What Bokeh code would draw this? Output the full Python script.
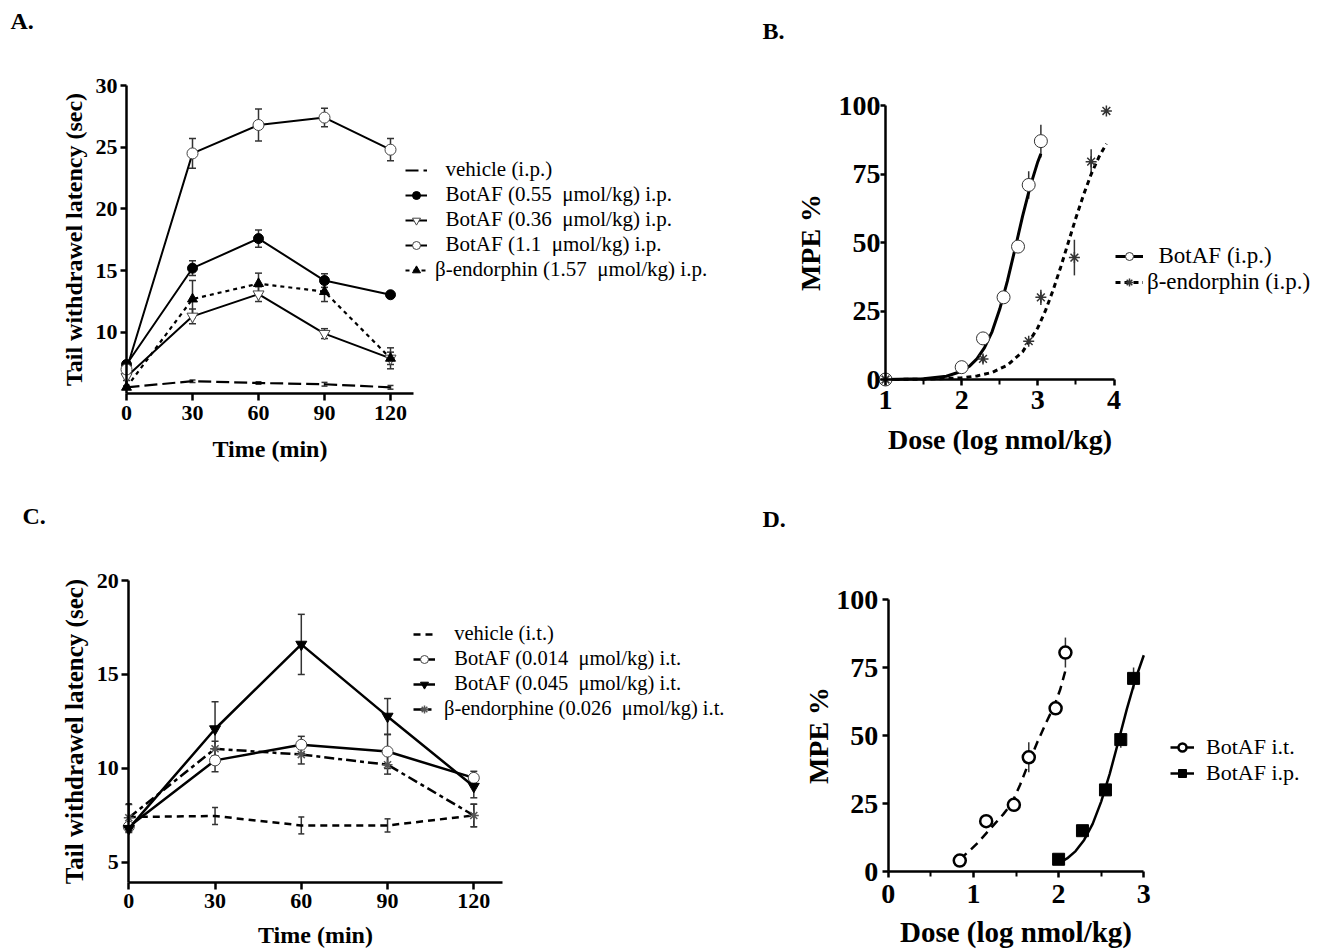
from bokeh.plotting import figure
from bokeh.models import (ColumnDataSource, Whisker, TeeHead, Legend, LegendItem,
                          Label, FixedTicker, Range1d)
from bokeh.layouts import column, row
from bokeh.embed import file_html
from bokeh.resources import INLINE

SERIF = "Liberation Serif"
NB = "\u00a0"
MU = NB + " \u03bcmol/kg"

# ---------------- data: panel A (i.p. time course) ----------------
time_min = [0, 30, 60, 90, 120]
a_vehicle = [5.55, 6.05, 5.9, 5.8, 5.55]
a_vehicle_err = [0.1, 0.1, 0.1, 0.15, 0.15]
a_botaf_055 = [7.4, 15.2, 17.6, 14.2, 13.05]
a_botaf_055_err = [0.3, 0.6, 0.7, 0.55, 0.15]
a_botaf_036 = [6.4, 11.3, 13.1, 9.9, 7.9]
a_botaf_036_err = [0.3, 0.6, 0.6, 0.4, 0.5]
a_botaf_11 = [7.0, 24.5, 26.8, 27.4, 24.8]
a_botaf_11_err = [0.3, 1.2, 1.3, 0.75, 0.9]
a_bendo = [5.55, 12.7, 13.95, 13.3, 7.9]
a_bendo_err = [0.1, 1.5, 0.85, 0.8, 0.85]

# ---------------- data: panel B (i.p. dose response) ----------------
b_botaf_dose = [1.0, 2.0, 2.28, 2.55, 2.74, 2.88, 3.04]
b_botaf_mpe = [0, 4.5, 15, 30, 48.5, 71, 87]
b_botaf_err = [0, 1, 2, 1.5, 2, 5, 6]
b_bendo_dose = [1.0, 2.28, 2.88, 3.04, 3.48, 3.7, 3.9]
b_bendo_mpe = [0, 7.5, 14, 30, 44.5, 79.5, 98]
b_bendo_err = [0, 1.5, 1, 2.8, 6.5, 4.5, 0]
b_fit_botaf_x = [1.0, 1.5, 1.8, 2.0, 2.1, 2.2, 2.3, 2.4, 2.5, 2.6, 2.7, 2.8, 2.9, 3.0, 3.04]
b_fit_botaf_y = [0.0, 0.3, 1.2, 3.0, 4.8, 7.5, 11.6, 17.5, 25.7, 35.9, 47.6, 59.6, 70.5, 79.5, 82.4]
b_fit_bendo_x = [1.0, 1.5, 2.0, 2.2, 2.4, 2.6, 2.8, 3.0, 3.1, 3.2, 3.3, 3.4, 3.5, 3.6, 3.7, 3.8, 3.9]
b_fit_bendo_y = [0.0, 0.1, 0.6, 1.3, 2.6, 5.2, 10.1, 18.9, 25.1, 32.6, 41.0, 50.0, 59.0, 67.4, 74.9, 81.1, 86.0]

# ---------------- data: panel C (i.t. time course) ----------------
c_vehicle = [7.42, 7.47, 6.97, 6.97, 7.5]
c_vehicle_err = [0.7, 0.45, 0.45, 0.35, 0.6]
c_botaf_0014 = [6.9, 10.43, 11.26, 10.9, 9.5]
c_botaf_0014_err = [0.2, 0.6, 0.45, 0.9, 0.35]
c_botaf_0045 = [6.8, 12.1, 16.6, 12.77, 9.04]
c_botaf_0045_err = [0.2, 1.45, 1.6, 0.95, 0.6]
c_bendo = [7.38, 11.05, 10.74, 10.2, 7.5]
c_bendo_err = [0.7, 0.4, 0.5, 0.5, 0.6]

# ---------------- data: panel D (i.t. vs i.p. dose response) ----------------
d_it_dose = [0.84, 1.15, 1.475, 1.65, 1.965, 2.08]
d_it_mpe = [4, 18.5, 24.5, 42, 60, 80.5]
d_it_err = [1, 1.5, 2, 5.5, 1.5, 5.5]
d_ip_dose = [2.0, 2.28, 2.55, 2.73, 2.88]
d_ip_mpe = [4.5, 15, 30, 48.5, 71]
d_ip_err = [0.5, 1, 2, 3, 4]
d_fit_it_x = [0.84, 0.95, 1.05, 1.15, 1.25, 1.35, 1.45, 1.55, 1.65, 1.75, 1.85, 1.95, 2.02, 2.09]
d_fit_it_y = [4.5, 7.5, 10.5, 14, 17.5, 21, 25, 32, 40, 47.5, 54.5, 61, 67, 75]
d_fit_ip_x = [2.0, 2.1, 2.2, 2.3, 2.4, 2.5, 2.6, 2.7, 2.8, 2.9, 3.0]
d_fit_ip_y = [3.0, 4.8, 7.5, 11.6, 17.5, 25.7, 35.9, 47.6, 59.6, 70.5, 79.5]

# ---------------- layout geometry (page pixels) ----------------
COL_W = (745, 585)
ROW_H = (490, 460)


def make_fig(box, xmap, ymap, xbounds, ybounds):
    """box = (left, top, w, h) on the page; xmap = (x0, px0, x1, px1) and
    ymap = (y0, py0, y1, py1) pin data values to page pixels.  The frame
    covers the whole figure and the axes sit at fixed data locations."""
    left, top, w, h = box
    x0, px0, x1, px1 = xmap
    y0, py0, y1, py1 = ymap
    ux = (x1 - x0) / (px1 - px0)
    uy = (y1 - y0) / (py0 - py1)
    xr = (x0 - (px0 - left) * ux, x0 + (left + w - px0) * ux)
    yr = (y0 - (top + h - py0) * uy, y0 + (py0 - top) * uy)
    p = figure(width=w, height=h, x_range=Range1d(*xr), y_range=Range1d(*yr),
               output_backend="svg", toolbar_location=None,
               min_border_left=0, min_border_right=0,
               min_border_top=0, min_border_bottom=0)
    p.outline_line_color = None
    p.grid.visible = False
    p.background_fill_color = "white"
    p.border_fill_color = "white"
    p.xaxis[0].fixed_location = ybounds[0]
    p.yaxis[0].fixed_location = xbounds[0]
    p.xaxis[0].bounds = xbounds
    p.yaxis[0].bounds = ybounds
    return p


def style_axes(p, tick_px, label_px, xlabel, ylabel, xticks, yticks,
               xminor=(), x_std=(2, 6), y_std=(3, 6), x_out=7, y_out=7, ylabel_px=None):
    xa, ya = p.xaxis[0], p.yaxis[0]
    xa.ticker = FixedTicker(ticks=xticks, minor_ticks=list(xminor))
    ya.ticker = FixedTicker(ticks=yticks, minor_ticks=[])
    xa.axis_label = xlabel
    ya.axis_label = ylabel
    for ax, std, out, lpx in ((xa, x_std, x_out, label_px),
                              (ya, y_std, y_out, ylabel_px or label_px)):
        ax.axis_line_width = 2.5
        ax.axis_line_color = "black"
        ax.major_tick_line_width = 2.5
        ax.major_tick_out = out
        ax.major_tick_in = 0
        ax.minor_tick_line_width = 2
        ax.minor_tick_out = 5
        ax.minor_tick_in = 0
        ax.major_label_text_font = SERIF
        ax.major_label_text_font_style = "bold"
        ax.major_label_text_font_size = f"{tick_px}px"
        ax.major_label_text_color = "black"
        ax.axis_label_text_font = SERIF
        ax.axis_label_text_font_style = "bold"
        ax.axis_label_text_font_size = f"{lpx}px"
        ax.axis_label_text_color = "black"
        ax.major_label_standoff = std[0]
        ax.axis_label_standoff = std[1]


def series(p, x, y, err=None, marker=None, size=10, fill="black", mcolor="black",
           mlw=1.0, dash="solid", lw=2.0, caps=True, cap=7, ecolor="#333333", line=True):
    rs = []
    if err is not None:
        src = ColumnDataSource(dict(x=x, lo=[a - b for a, b in zip(y, err)],
                                    hi=[a + b for a, b in zip(y, err)]))
        head_u = TeeHead(size=cap, line_width=1.5, line_color=ecolor) if caps else None
        head_l = TeeHead(size=cap, line_width=1.5, line_color=ecolor) if caps else None
        w = Whisker(source=src, base="x", upper="hi", lower="lo", dimension="height",
                    line_color=ecolor, line_width=1.5, upper_head=head_u, lower_head=head_l)
        p.add_layout(w)
    if line:
        rs.append(p.line(x, y, line_color="black", line_width=lw, line_dash=dash))
    if marker is not None:
        rs.append(p.scatter(x, y, marker=marker, size=size, fill_color=fill,
                            line_color=mcolor, line_width=mlw))
    return rs


def add_legend(p, items, vx, vy, font_px, glyph_w, standoff, spacing, gh=20):
    lg = Legend(items=[LegendItem(label=t, renderers=r) for t, r in items],
                location=(vx, vy), padding=0, margin=0, spacing=spacing,
                glyph_width=glyph_w, glyph_height=gh, label_height=gh,
                label_standoff=standoff, border_line_color=None,
                background_fill_alpha=0)
    lg.label_text_font = SERIF
    lg.label_text_font_size = f"{font_px}px"
    lg.label_text_color = "black"
    p.add_layout(lg)


def panel_letter(p, text, x, y):
    p.add_layout(Label(x=x, y=y, x_units="screen", y_units="screen", text=text,
                       text_font=SERIF, text_font_style="bold", text_font_size="24px",
                       text_baseline="middle", text_align="left", text_color="black"))


# ---------------- Panel A ----------------
boxA = (0, 0, COL_W[0], ROW_H[0])
pA = make_fig(boxA, (0, 126, 120, 390), (5.05, 393, 30, 85), (0, 130.5), (5.05, 30))
style_axes(pA, 22, 24, "Time (min)", "Tail withdrawel latency (sec)",
           time_min, [10, 15, 20, 25, 30], x_std=(5, 13), y_std=(3, 6), x_out=7, y_out=6)
rA_veh = series(pA, time_min, a_vehicle, a_vehicle_err, None, dash="13 5", lw=2.2, cap=6)
rA_055 = series(pA, time_min, a_botaf_055, a_botaf_055_err, "circle", 10, "black")
rA_036 = series(pA, time_min, a_botaf_036, a_botaf_036_err, "inverted_triangle", 11,
                "white", mcolor="#444444")
rA_11 = series(pA, time_min, a_botaf_11, a_botaf_11_err, "circle", 11, "white",
               mcolor="#444444")
rA_be = series(pA, time_min, a_bendo, a_bendo_err, "triangle", 10, "black",
               dash="4 4", lw=2.2)
add_legend(pA, [
    (NB * 2 + "vehicle (i.p.)", rA_veh),
    (NB * 2 + "BotAF (0.55" + MU + ") i.p.", rA_055),
    (NB * 2 + "BotAF (0.36" + MU + ") i.p.", rA_036),
    (NB * 2 + "BotAF (1.1" + MU + ") i.p.", rA_11),
    ("\u03b2-endorphin (1.57" + MU + ") i.p.", rA_be),
], 405, ROW_H[0] - 282, 21, 22, 8, 0)
panel_letter(pA, "A.", 10, ROW_H[0] - 20)

# ---------------- Panel B ----------------
boxB = (COL_W[0], 0, COL_W[1], ROW_H[0])
pB = make_fig(boxB, (1, 885, 4, 1113.5), (0, 379, 100, 105), (1, 4), (0, 100))
style_axes(pB, 28, 28, "Dose (log nmol/kg)", "MPE %", [1, 2, 3, 4],
           [0, 25, 50, 75, 100], xminor=[1.5, 2.5, 3.5], x_std=(5, 12), y_std=(0, 10),
           x_out=6, y_out=5)
fB1 = pB.line(b_fit_botaf_x, b_fit_botaf_y, line_color="black", line_width=3)
fB2 = pB.line(b_fit_bendo_x, b_fit_bendo_y, line_color="black", line_width=3,
              line_dash="5 4")
sB1 = series(pB, b_botaf_dose, b_botaf_mpe, b_botaf_err, "circle", 13, "white",
             mcolor="#333333", caps=False, line=False)
sB2 = series(pB, b_bendo_dose, b_bendo_mpe, b_bendo_err, "asterisk", 11, "white",
             mcolor="#333333", mlw=1.5, caps=False, line=False)
add_legend(pB, [
    (NB * 2 + "BotAF (i.p.)", [fB1] + sB1),
    ("\u03b2-endorphin (i.p.)", [fB2] + sB2),
], 1115 - COL_W[0], ROW_H[0] - 294.5, 23, 28, 4, 0)
panel_letter(pB, "B.", 762 - COL_W[0], ROW_H[0] - 30)

# ---------------- Panel C ----------------
boxC = (0, ROW_H[0], COL_W[0], ROW_H[1])
pC = make_fig(boxC, (0, 128.3, 120, 473.3), (3.95, 881.7, 20, 580), (0, 130), (3.95, 20))
style_axes(pC, 22, 24, "Time (min)", "Tail withdrawel latency (sec)",
           time_min, [5, 10, 15, 20], x_std=(5, 10), y_std=(3, 6), ylabel_px=25)
rC_veh = series(pC, time_min, c_vehicle, c_vehicle_err, None, dash="7 5", lw=2.5, cap=6)
rC_14 = series(pC, time_min, c_botaf_0014, c_botaf_0014_err, "circle", 11, "white",
               mcolor="#444444", lw=2.5)
rC_45 = series(pC, time_min, c_botaf_0045, c_botaf_0045_err, "inverted_triangle", 11,
               "black", lw=2.5)
rC_be = series(pC, time_min, c_bendo, c_bendo_err, "asterisk", 10, "white",
               mcolor="#555555", mlw=1.5, dash="10 4 4 4", lw=2.5)
add_legend(pC, [
    (NB * 2 + "vehicle (i.t.)", rC_veh),
    (NB * 2 + "BotAF (0.014" + MU + ") i.t.", rC_14),
    (NB * 2 + "BotAF (0.045" + MU + ") i.t.", rC_45),
    ("\u03b2-endorphine (0.026" + MU + ") i.t.", rC_be),
], 413, ROW_H[0] + ROW_H[1] - 720, 20.5, 22, 9, 2)
panel_letter(pC, "C.", 22, ROW_H[0] + ROW_H[1] - 515)

# ---------------- Panel D ----------------
boxD = (COL_W[0], ROW_H[0], COL_W[1], ROW_H[1])
pD = make_fig(boxD, (0, 887.7, 3, 1143.3), (0, 871, 100, 599), (0, 3), (0, 100))
style_axes(pD, 28, 29, "Dose (log nmol/kg)", "MPE %", [0, 1, 2, 3],
           [0, 25, 50, 75, 100], xminor=[0.5, 1.5, 2.5], x_std=(7, 10), y_std=(4, 0),
           x_out=6, y_out=6, ylabel_px=28)
fD1 = pD.line(d_fit_it_x, d_fit_it_y, line_color="black", line_width=2.5, line_dash="9 6")
fD2 = pD.line(d_fit_ip_x, d_fit_ip_y, line_color="black", line_width=2.5)
sD1 = series(pD, d_it_dose, d_it_mpe, d_it_err, "circle", 12, "white",
             mcolor="black", mlw=2.5, caps=False, line=False)
sD2 = series(pD, d_ip_dose, d_ip_mpe, d_ip_err, "square", 12, "black",
             caps=False, line=False)
add_legend(pD, [
    ("BotAF i.t.", [fD1] + sD1),
    ("BotAF i.p.", [fD2] + sD2),
], 1170 - COL_W[0], ROW_H[0] + ROW_H[1] - 786, 22, 24, 12, 0)
panel_letter(pD, "D.", 762 - COL_W[0], ROW_H[0] + ROW_H[1] - 518)

layout = column(row(pA, pB), row(pC, pD))
open("out.html", "w").write(file_html(layout, INLINE))
